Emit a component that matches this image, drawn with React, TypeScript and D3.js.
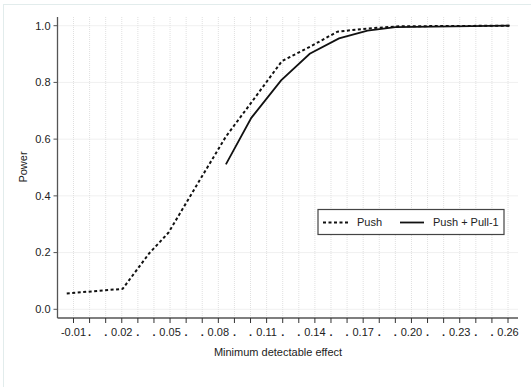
import React from "react";
import * as d3 from "d3";

const pushX = [-0.0142, 0.0205, 0.037, 0.049, 0.0685, 0.0847, 0.1001, 0.1195, 0.137, 0.154, 0.1727, 0.1927, 0.261];
const pushY = [0.056, 0.072, 0.197, 0.27, 0.456, 0.609, 0.726, 0.875, 0.926, 0.979, 0.99, 0.998, 1.0];
const pullX = [0.0847, 0.1005, 0.119, 0.1368, 0.155, 0.1727, 0.19, 0.261];
const pullY = [0.511, 0.675, 0.807, 0.901, 0.955, 0.983, 0.995, 1.0];
const xTicks = d3.range(28).map((i) => +(-0.01 + i * 0.01).toFixed(2));
const xLabels = xTicks.map((v, i) => (i % 3 === 0 ? v.toFixed(2).replace(/^0\./, "0.").replace(/^-0\./, "-0.") : "."));
const yTicks = [0, 0.2, 0.4, 0.6, 0.8, 1.0];
const seriesNames = ["Push", "Push + Pull-1"];

export default function App() {
  const W = 531, H = 387;
  const x = d3.scaleLinear().domain([-0.01, 0.26]).range([73.5, 508]);
  const y = d3.scaleLinear().domain([0, 1]).range([309.3, 25.7]);
  const line = d3.line<[number, number]>().x((d) => x(d[0])).y((d) => y(d[1]));
  const pushData: [number, number][] = pushX.map((v, i) => [v, pushY[i]]);
  const pullData: [number, number][] = pullX.map((v, i) => [v, pullY[i]]);
  const left = 57.5, right = 518, top = 17, bottom = 318;
  const font = "Liberation Sans, Arial, sans-serif";
  return (
    <svg width={W} height={H} style={{ position: "absolute", left: 0, top: 0, fontFamily: font }}>
      <rect x={0} y={0} width={W} height={H} fill="#fff" />
      <rect x={3.5} y={4.5} width={540} height={400} fill="none" stroke="#e2ecec" strokeWidth={1} />
      {/* grid */}
      {xTicks.map((t, i) => (
        <line key={"gx" + i} x1={x(t)} x2={x(t)} y1={top} y2={bottom} stroke="#e0e0e0" strokeWidth={1} strokeDasharray="1,1" />
      ))}
      {yTicks.map((t, i) => (
        <line key={"gy" + i} x1={left} x2={right} y1={y(t)} y2={y(t)} stroke="#e0e0e0" strokeWidth={1} strokeDasharray="1,1" />
      ))}
      {/* axes */}
      <line x1={left} x2={left} y1={top} y2={bottom} stroke="#555" strokeWidth={1.3} />
      <line x1={left} x2={right} y1={bottom} y2={bottom} stroke="#555" strokeWidth={1.3} />
      {yTicks.map((t, i) => (
        <g key={"yt" + i}>
          <line x1={left - 4} x2={left} y1={y(t)} y2={y(t)} stroke="#555" strokeWidth={1} />
          <text x={left - 7} y={y(t)} dy="0.35em" textAnchor="end" fontSize={11} fill="#222">
            {t.toFixed(1)}
          </text>
        </g>
      ))}
      {xTicks.map((t, i) => (
        <g key={"xt" + i}>
          <line x1={x(t)} x2={x(t)} y1={bottom} y2={bottom + 5} stroke="#333" strokeWidth={1} />
          <text x={x(t)} y={336} textAnchor="middle" fontSize={11} fill="#222" fontWeight={xLabels[i] === "." ? "bold" : "normal"}>
            {xLabels[i]}
          </text>
        </g>
      ))}
      <text x={278} y={356} textAnchor="middle" fontSize={11} fill="#222">Minimum detectable effect</text>
      <text transform={`translate(27,${167}) rotate(-90)`} textAnchor="middle" fontSize={11} fill="#222">Power</text>
      {/* series */}
      <path d={line(pushData) || ""} fill="none" stroke="#111" strokeWidth={2} strokeDasharray="3,2.5" />
      <path d={line(pullData) || ""} fill="none" stroke="#111" strokeWidth={1.8} />
      {/* legend */}
      <rect x={318} y={209.5} width={186} height={25} fill="#fff" stroke="#444" strokeWidth={1.2} />
      <line x1={323} x2={350} y1={222.5} y2={222.5} stroke="#111" strokeWidth={2} strokeDasharray="3,2.5" />
      <text x={357} y={222.5} dy="0.35em" fontSize={11} fill="#222">{seriesNames[0]}</text>
      <line x1={400} x2={424} y1={222.5} y2={222.5} stroke="#111" strokeWidth={1.8} />
      <text x={433} y={222.5} dy="0.35em" fontSize={11} fill="#222">{seriesNames[1]}</text>
    </svg>
  );
}
